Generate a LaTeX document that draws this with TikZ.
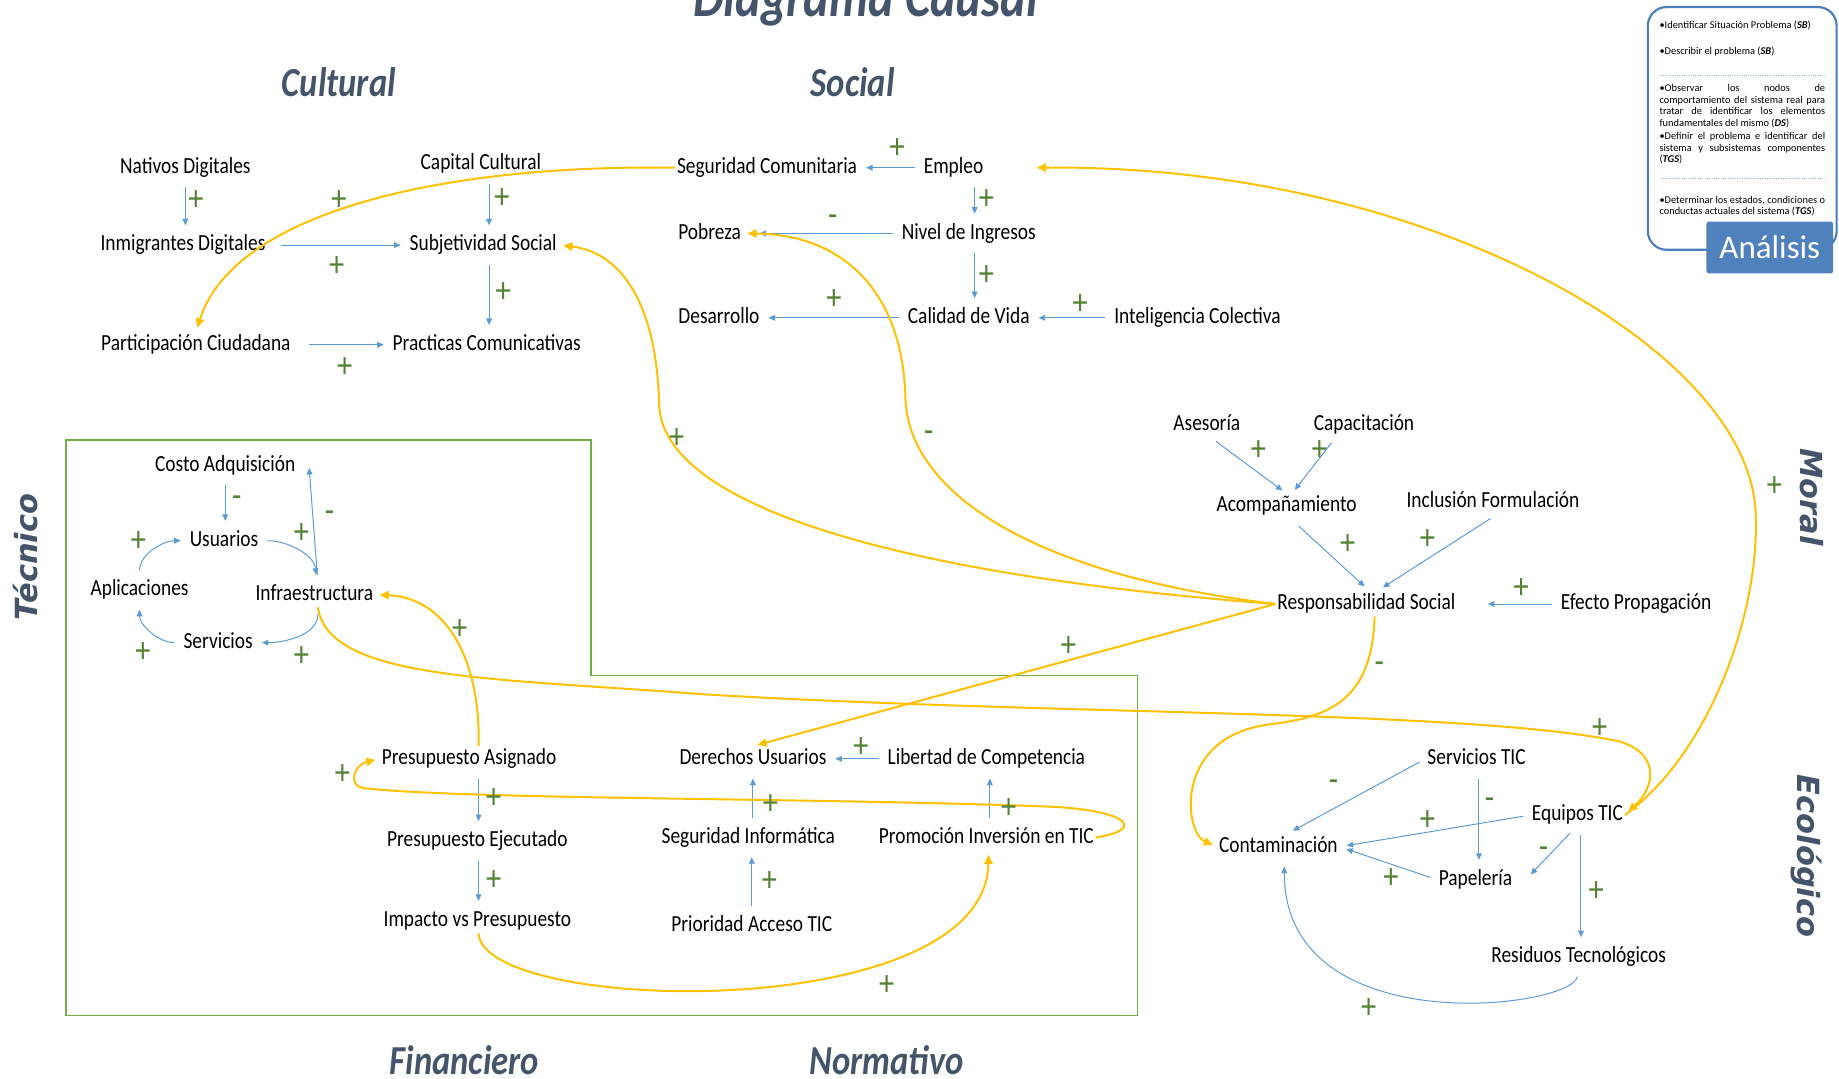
\documentclass[tikz,border=0pt]{standalone}
\usepackage{fontspec}
\usepackage{tikz}
\usetikzlibrary{arrows.meta}
\setmainfont{Carlito}
\newfontfamily\narrowfont{Carlito}[FakeStretch=0.84]
\newfontfamily\sidefont{DejaVu Sans}
\definecolor{titlegray}{RGB}{68,84,106}
\definecolor{linkblue}{RGB}{91,155,213}
\definecolor{loopyellow}{RGB}{255,192,0}
\definecolor{signgreen}{RGB}{84,130,53}
\definecolor{boxgreen}{RGB}{112,173,71}
\definecolor{panelblue}{RGB}{74,126,187}
\definecolor{panelfill}{RGB}{79,129,189}
\definecolor{dotblue}{RGB}{142,180,227}

\begin{document}
\begin{tikzpicture}[x=0.25mm, y=-0.25mm,
  factor/.style={font=\narrowfont\fontsize{14}{16}\selectfont, inner sep=1pt,
                 text height=10pt, text depth=3pt},
  causal/.style={-{Triangle[length=4pt,width=3.5pt]}, linkblue, line width=0.6pt,
                 shorten >=1.5mm, shorten <=1.5mm},
  feedback/.style={-{Triangle[length=5.5pt,width=5pt]}, loopyellow, line width=1.2pt,
                 shorten >=1mm},
  polarity/.style={font=\narrowfont\fontsize{22}{22}\selectfont, text=signgreen, inner sep=0pt},
  areatitle/.style={font=\narrowfont\bfseries\itshape\fontsize{25}{28}\selectfont,
                 text=titlegray, anchor=base},
  sidelabel/.style={font=\sidefont\bfseries\itshape\fontsize{18.5}{20}\selectfont, text=titlegray},
  panelnote/.style={font=\fontsize{6.3}{7}\selectfont, inner sep=0.5pt}]

\useasboundingbox (0,0) rectangle (1568,920);

% ── Titel und Bereiche ───────────────────────────────────────────────
\node[areatitle, font=\narrowfont\bfseries\itshape\fontsize{35}{40}\selectfont]
  (titel) at (738,14) {Diagrama Causal};
\node[areatitle] (cult) at (289,82)  {Cultural};
\node[areatitle] (soc)  at (727,82)  {Social};
\node[areatitle] (fin)  at (396,916) {Financiero};
\node[areatitle] (norm) at (756,916) {Normativo};
\node[sidelabel, rotate=90]  (tec) at (22,475)   {Técnico};
\node[sidelabel, rotate=-90] (mor) at (1545,424) {Moral};
\node[sidelabel, rotate=-90] (eco) at (1540,730) {Ecológico};

% ── Rahmen Técnico / Financiero / Normativo ──────────────────────────
\draw[boxgreen, line width=1pt]
  (56,375) -- (504,375) -- (504,576) -- (970,576) -- (970,866) -- (56,866) -- cycle;

% ── Variablen ────────────────────────────────────────────────────────
\foreach \nm/\x/\y/\txt in {
   nat/158/143/Nativos Digitales,
   inm/156/209/Inmigrantes Digitales,
   cap/410/140/Capital Cultural,
   sub/412/209/Subjetividad Social,
   par/167/294/Participación Ciudadana,
   pra/415/294/Practicas Comunicativas,
   seg/654/143/Seguridad Comunitaria,
   emp/813/143/Empleo,
   pob/605/199/Pobreza,
   niv/826/199/Nivel de Ingresos,
   des/613/271/Desarrollo,
   cal/826/271/Calidad de Vida,
   int/1021/271/Inteligencia Colectiva,
   cos/192/397/Costo Adquisición,
   usu/191/461/Usuarios,
   apl/119/503/Aplicaciones,
   inf/268/507/Infraestructura,
   ser/186/548/Servicios,
   pas/400/647/Presupuesto Asignado,
   pej/407/717/Presupuesto Ejecutado,
   imp/407/785/Impacto vs Presupuesto,
   der/642/647/Derechos Usuarios,
   lib/841/647/Libertad de Competencia,
   sin/638/714/Seguridad Informática,
   pro/841/714/Promoción Inversión en TIC,
   pri/641/789/Prioridad Acceso TIC,
   ase/1029/362/Asesoría,
   cpt/1163/362/Capacitación,
   aco/1097/431/Acompañamiento,
   inc/1273/428/Inclusión Formulación,
   res/1165/515/Responsabilidad Social,
   efe/1395/515/Efecto Propagación,
   stic/1259/647/Servicios TIC,
   etic/1345/695/Equipos TIC,
   con/1090/722/Contaminación,
   pap/1258/750/Papelería,
   resi/1346/816/Residuos Tecnológicos}
{
  \node[factor] (\nm) at (\x,\y) {\txt};
}

% ── Kausale Pfeile (blau) ────────────────────────────────────────────
% Cultural
\draw[causal] (nat.south) -- (nat.south |- inm.north);
\draw[causal, shorten <=3mm] (inm.east) -- (sub.west);
\draw[causal] ([xshift=1.75mm]cap.south) -- ([xshift=1.75mm]cap.south |- sub.north);
\draw[causal] ([xshift=1.25mm]sub.south) -- ([xshift=1.25mm]sub.south |- pra.north);
\draw[causal, shorten <=3.5mm] (par.east) -- (pra.west);
% Social
\draw[causal] (emp.west) -- (seg.east);
\draw[causal] ([xshift=4.5mm]emp.south) -- ([xshift=4.5mm]emp.south |- niv.north);
\draw[causal, shorten >=3.5mm] (niv.west) -- (pob.east);
\draw[causal] ([xshift=1.25mm]niv.south) -- ([xshift=1.25mm]niv.south |- cal.north);
\draw[causal] (cal.west) -- (des.east);
\draw[causal] (int.west) -- (cal.east);
% Técnico
\draw[causal] (cos.south) -- (cos.south |- usu.north);
\draw[causal] (usu.east) to[out=0, in=95] ([xshift=0.5mm]inf.north);
\draw[causal, shorten >=0.5mm] ([xshift=0.75mm]inf.north) -- ([xshift=2.5mm]cos.east);
\draw[causal] (apl.north) to[out=90, in=180] (usu.west);
\draw[causal] ([xshift=0.75mm]inf.south) to[out=-90, in=0] (ser.east);
\draw[causal] (ser.west) to[out=180, in=-90] (apl.south);
% Financiero / Normativo
\draw[causal] ([xshift=2mm]pas.south) -- ([xshift=2mm]pas.south |- pej.north);
\draw[causal] ([xshift=0.25mm]pej.south) -- ([xshift=0.25mm]pej.south |- imp.north);
\draw[causal] (lib.west) -- (der.east);
\draw[causal] (der.south |- sin.north) -- (der.south);
\draw[causal] (pri.north) -- (pri.north |- sin.south);
\draw[causal] ([xshift=0.75mm]pro.north) -- ([xshift=0.75mm]pro.north |- lib.south);
% Moral
\draw[causal, shorten >=0.8mm] ([xshift=0.75mm]ase.south) -- ([xshift=-0.25mm]aco.north);
\draw[causal, shorten >=0.8mm] ([xshift=-6mm]cpt.south) -- ([xshift=1.25mm]aco.north);
\draw[causal, shorten <=2.5mm] ([xshift=0.75mm]aco.south) -- ([xshift=0.75mm]res.north);
\draw[causal] ([xshift=0.75mm]inc.south) -- ([xshift=2.25mm]res.north);
\draw[causal] (efe.west) -- ([xshift=5mm]res.east);
% Ecológico
\draw[causal] (stic.west) -- ([xshift=1.75mm]con.north);
\draw[causal] ([xshift=0.5mm]stic.south) -- ([xshift=0.5mm]stic.south |- pap.north);
\draw[causal] (etic.west) -- (con.east);
\draw[causal] (pap.west) -- (con.east);
\draw[causal] ([xshift=-0.5mm]etic.south) -- ([xshift=2.5mm]pap.east);
\draw[causal] ([xshift=0.75mm]etic.south) -- ([xshift=0.75mm]etic.south |- resi.north);
\draw[causal] (resi.south) .. controls (1340,860) and (1095,890) .. ([xshift=1.25mm]con.south);

% ── Rückkopplungen zwischen Bereichen (gelb) ─────────────────────────
\draw[feedback] (seg.west) .. controls (380,140) and (200,180) .. (par.north);
\draw[feedback] (res.west) .. controls (760,490) and (565,430) .. (562,345)
                           .. controls (560,260) and (530,215) .. (sub.east);
\draw[feedback] (res.west) .. controls (880,490) and (775,420) .. (772,340)
                           .. controls (770,250) and (720,200) .. (pob.east);
\draw[feedback] (res.west) -- (der.north);
\draw[feedback] ([xshift=0.75mm]inf.south) .. controls (280,580) and (420,578) .. (600,592)
                .. controls (900,610) and (1250,605) .. (1380,632)
                .. controls (1415,642) and (1412,670) .. (etic.east);
\draw[feedback] ([xshift=2mm]pas.north) .. controls (410,570) and (385,510) .. (inf.east);
\draw[feedback] (pro.east) .. controls (975,708) and (965,692) .. (900,688)
                .. controls (700,680) and (400,682) .. (310,672)
                .. controls (296,670) and (302,652) .. (pas.west);
\draw[feedback] ([xshift=0.25mm]imp.south) .. controls (412,865) and (840,875) .. ([xshift=0.5mm]pro.south);
\draw[feedback] ([xshift=1.75mm]res.south) .. controls (1170,600) and (1130,612) .. (1080,618)
                .. controls (1000,630) and (1010,710) .. (con.west);
\draw[feedback] (etic.east) .. controls (1460,640) and (1500,520) .. (1497,440)
                .. controls (1495,300) and (1220,140) .. ([xshift=10mm]emp.east);

% ── Polaritäten ──────────────────────────────────────────────────────
\foreach \x/\y/\s [count=\i] in {
   167/171/+, 289/171/+, 428/169/+, 287/227/+, 429/249/+, 294/313/+,
   765/127/+, 841/170/+, 710/188/-, 841/235/+, 711/255/+, 921/260/+,
   577/374/+, 792/372/-, 911/551/+, 1513/415/+, 1364/621/+, 1176/569/-,
   202/428/-, 281/441/-, 257/455/+, 118/462/+, 257/560/+, 122/556/+, 392/537/+,
   292/660/+, 421/681/+, 421/751/+, 734/637/+, 657/686/+, 860/689/+, 656/752/+, 756/840/+,
   1073/384/+, 1125/384/+, 1149/464/+, 1217/460/+, 1297/502/+,
   1137/670/-, 1270/685/-, 1217/700/+, 1316/727/-, 1186/749/+, 1361/760/+, 1167/860/+}
{
  \node[polarity] (pol\i) at (\x,\y) {\s};
}

% ── Analyse-Kasten ───────────────────────────────────────────────────
\draw[panelblue, line width=1.3pt, rounded corners=4mm] (1405,6) rectangle (1566,213);
\node[panelnote, anchor=west] (an1) at (1414,22)
  {\textbullet Identificar Situación Problema (\textbf{\textit{SB}})};
\node[panelnote, anchor=west] (an2) at (1414,44)
  {\textbullet Describir el problema (\textbf{\textit{SB}})};
\draw[dotblue, densely dotted] (1416,64) -- (1557,64);
\node[panelnote, anchor=north west, text width=35.3mm, align=justify] (an3) at (1414,71)
  {\hangindent=0.8mm\hangafter=1 \textbullet Observar los nodos de\linebreak
   comportamiento del sistema real para\linebreak
   tratar de identificar los elementos\linebreak
   fundamentales del mismo (\textbf{\textit{DS}})};
\node[panelnote, anchor=north west, text width=35.3mm, align=justify] (an4) at (1414,112)
  {\hangindent=0.8mm\hangafter=1 \textbullet Definir el problema e identificar del\linebreak
   sistema y subsistemas componentes\linebreak (\textbf{\textit{TGS}})};
\draw[dotblue, densely dotted] (1416,152) -- (1557,152);
\node[panelnote, anchor=north west, text width=35.3mm, align=justify] (an5) at (1414,166)
  {\hangindent=0.8mm\hangafter=1 \textbullet Determinar los estados, condiciones o\linebreak
   conductas actuales del sistema (\textbf{\textit{TGS}})};
\node[fill=panelfill, text=white, font=\fontsize{20}{22}\selectfont, rounded corners=0.5mm,
      minimum width=27mm, minimum height=11mm, inner sep=0pt] (ana) at (1509,211) {Análisis};

\end{tikzpicture}
\end{document}
